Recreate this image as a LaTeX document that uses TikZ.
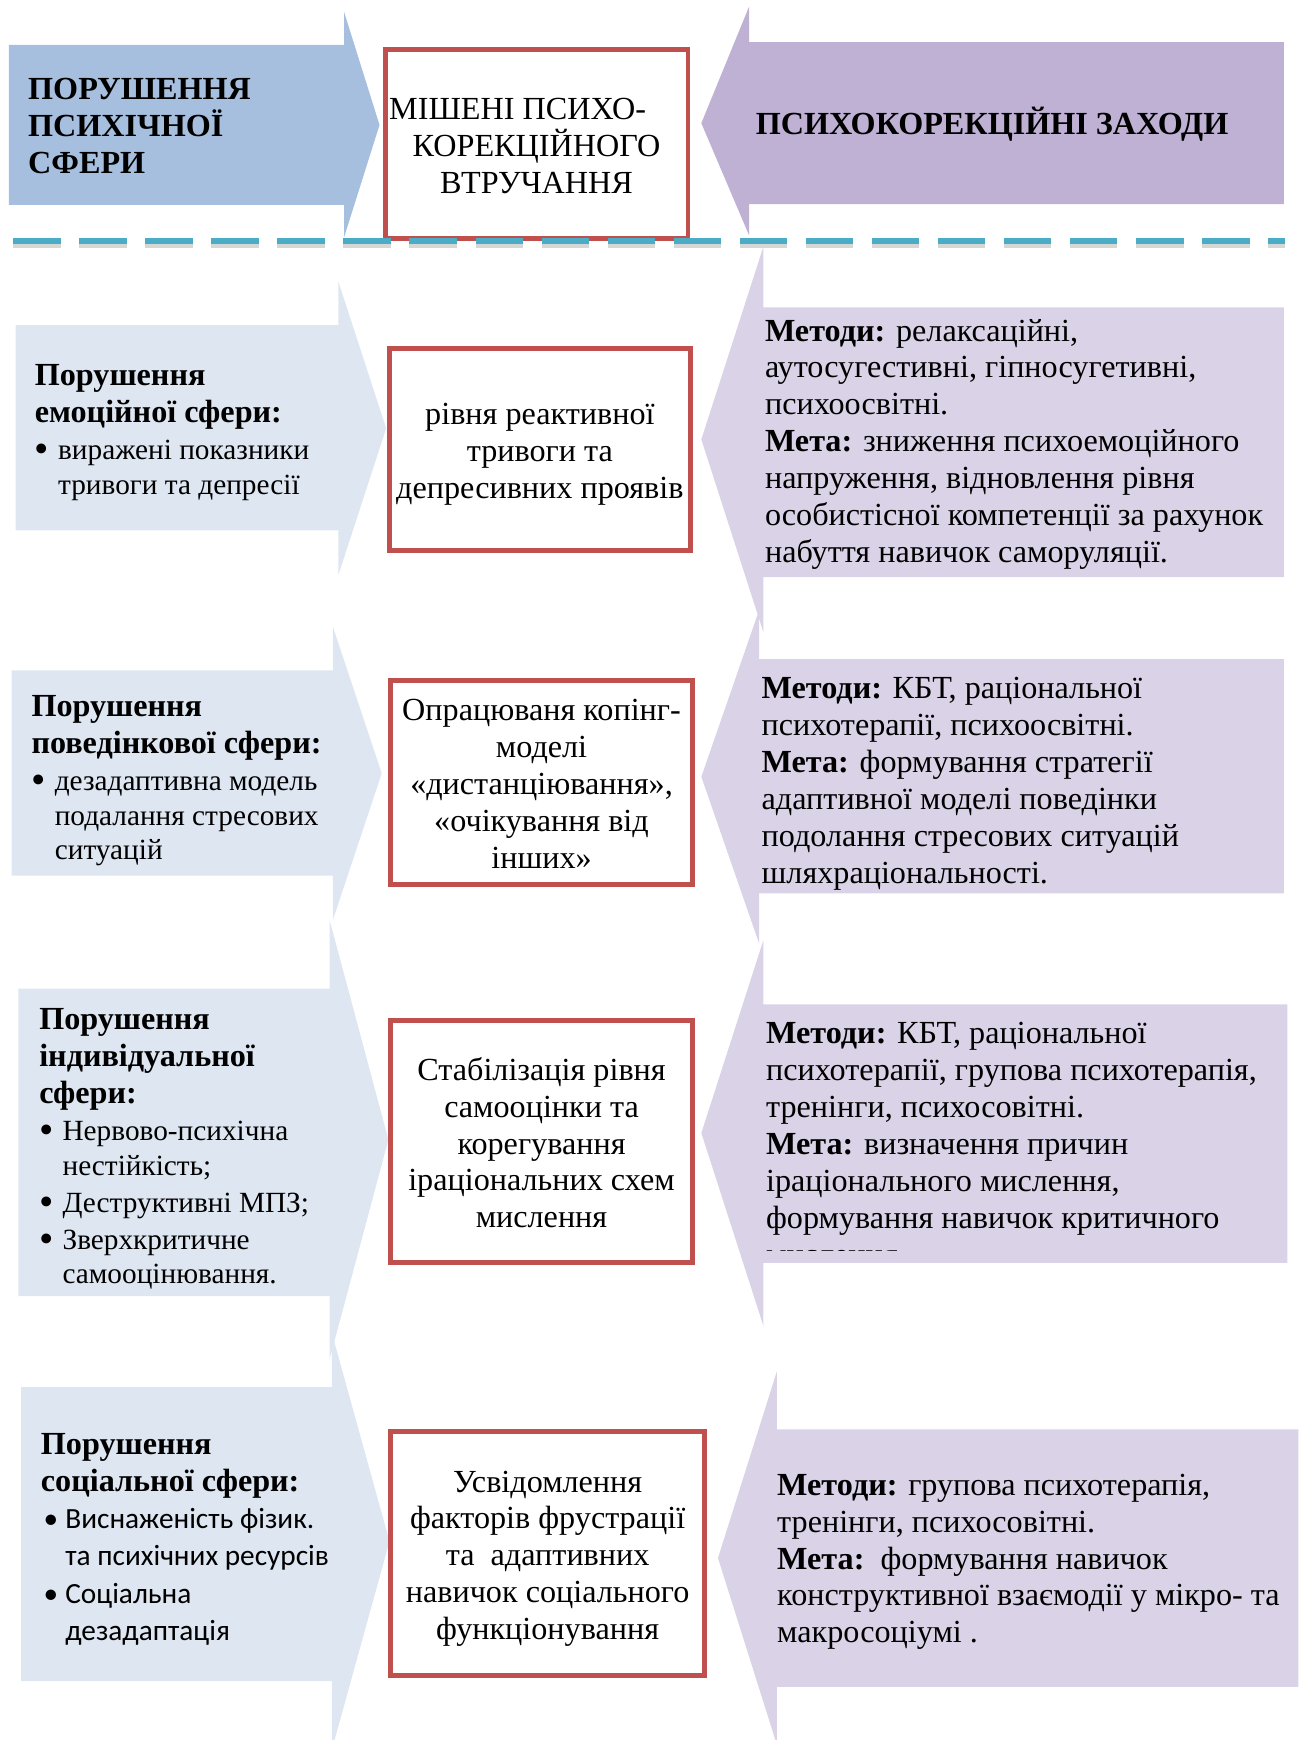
\documentclass[tikz,border=0pt]{standalone}
\usepackage{fontspec}
\setmainfont{Liberation Serif}
\newfontfamily\calib{Carlito}
\definecolor{hblue}{HTML}{A7BFDE}
\definecolor{hpurple}{HTML}{BFB1D3}
\definecolor{rblue}{HTML}{DEE6F1}
\definecolor{rpurple}{HTML}{DAD2E6}
\definecolor{redc}{HTML}{C0504D}
\definecolor{dashc}{HTML}{4BACC6}
\newcommand\mystrut{\rule{0pt}{10pt}}
\newcommand\boxstrut{\rule{0pt}{14.5pt}}
\newcommand\lastrut{\rule[-3.5pt]{0pt}{3.5pt}}
\newcommand\bigbul{\raisebox{-1.3pt}{\scalebox{1.4}{\textbullet}}}
\newcommand\mybul{\makebox[10.5pt][l]{\bigbul}}
\newcommand\myind{\hspace*{10.5pt}}
\newcommand\cbul{\hspace*{1.2pt}\makebox[9.8pt][l]{\textbullet}}
\newcommand\cind{\hspace*{11pt}}
\newcommand\sm[1]{{\fontsize{13.2}{16.8}\selectfont #1}}
\newcommand\cb[1]{{\calib\fontsize{13.2}{16.8}\selectfont #1}}
\tikzset{
  txt/.style={anchor=north west, inner sep=0pt, align=left, font=\fontsize{14.5}{16.65}\selectfont},
  ltxt/.style={anchor=north west, inner sep=0pt, align=left, font=\fontsize{14.5}{16.8}\selectfont},
  redbox/.style={draw=redc, line width=2.2pt, fill=white, align=center, inner sep=0pt, font=\fontsize{14.5}{16.6}\selectfont},
  dashln/.style={draw=dashc, line width=2.7pt, dash pattern=on 21.5pt off 8.25pt},
  dashshadow/.style={draw=black!16, line width=2.9pt, dash pattern=on 21.5pt off 8.25pt},
}
\begin{document}
\begin{tikzpicture}[x=0.5pt,y=-0.5pt]
\useasboundingbox (0,0) rectangle (1173,1568);
% ---------- header ----------
\fill[hblue] (8,40.5) -- (310,40.5) -- (310,10.5) -- (342,112.6) -- (310,214) -- (310,184.7) -- (8,184.7) -- cycle;
\fill[hpurple] (1157,38) -- (675,38) -- (675,6) -- (632,111) -- (675,212) -- (675,184) -- (1157,184) -- cycle;
\node[ltxt, font=\fontsize{14.5}{16.75}\selectfont\bfseries] (hl) at (25,69.3) {\mystrut ПОРУШЕННЯ\\ПСИХІЧНОЇ\\СФЕРИ};
\node[redbox, minimum width=136.5pt, minimum height=85pt] (hm) at (483.5,130) {\boxstrut МІШЕНІ ПСИХО-\hspace*{17pt}\\КОРЕКЦІЙНОГО\\ВТРУЧАННЯ\lastrut};
\node[inner sep=0pt, font=\fontsize{14.5}{16.6}\selectfont\bfseries] (hr) at (894,112) {ПСИХОКОРЕКЦІЙНІ ЗАХОДИ};
% ---------- row arrows ----------
\fill[rblue] (14,293) -- (305,293) -- (305,254) -- (348,386) -- (305,518) -- (305,478) -- (14,478) -- cycle;
\fill[rblue] (10.5,604) -- (300,604) -- (300,565) -- (344,697) -- (300,829) -- (300,789) -- (10.5,789) -- cycle;
\fill[rblue] (16.5,891) -- (297,891) -- (297,829) -- (350,1027) -- (297,1225) -- (297,1168) -- (16.5,1168) -- cycle;
\fill[rblue] (19,1250) -- (299,1250) -- (299,1201) -- (351,1389) -- (299,1577) -- (299,1515) -- (19,1515) -- cycle;
\fill[rpurple] (1157,277) -- (688,277) -- (688,222) -- (632,396) -- (688,570) -- (688,520) -- (1157,520) -- cycle;
\fill[rpurple] (1157,594) -- (684,594) -- (684,550) -- (632,700) -- (684,850) -- (684,805) -- (1157,805) -- cycle;
\fill[rpurple] (1160,905) -- (688,905) -- (688,847) -- (632,1021) -- (688,1195) -- (688,1138) -- (1160,1138) -- cycle;
\fill[rpurple] (1170,1288) -- (700,1288) -- (700,1236) -- (647,1404) -- (700,1572) -- (700,1520) -- (1170,1520) -- cycle;
% ---------- left texts ----------
\node[ltxt] (l1) at (31,326.9) {\mystrut\textbf{Порушення}\\\textbf{емоційної сфери:}\\\sm{\mybul виражені показники}\\[-1.4pt]\sm{\myind тривоги та депресії}};
\node[ltxt] (l2) at (28,624.9) {\mystrut\textbf{Порушення}\\\textbf{поведінкової сфери:}\\\sm{\mybul дезадаптивна модель}\\[-1.3pt]\sm{\myind подалання стресових}\\[-1.3pt]\sm{\myind ситуацій}};
\node[ltxt] (l3) at (35,906.9) {\mystrut\textbf{Порушення}\\\textbf{індивідуальної}\\\textbf{сфери:}\\\sm{\mybul Нервово-психічна}\\[-1.4pt]\sm{\myind нестійкість;}\\\sm{\mybul Деструктивні МПЗ;}\\\sm{\mybul Зверхкритичне}\\[-1.4pt]\sm{\myind самооцінювання.}};
\node[ltxt] (l4) at (36.5,1289.9) {\mystrut\textbf{Порушення}\\\textbf{соціальної сфери:}\\\cb{\cbul Виснаженість фізик.}\\\cb{\cind та психічних ресурсів}\\\cb{\cbul Соціальна}\\\cb{\cind дезадаптація}};
% ---------- middle boxes ----------
\node[redbox, minimum width=135.5pt, minimum height=91pt] (m1) at (486.5,405) {\boxstrut рівня реактивної\\тривоги та\\депресивних проявів\lastrut};
\node[redbox, minimum width=136pt, minimum height=92pt] (m2) at (488,705) {\boxstrut Опрацюваня копінг-\\моделі\\«дистанціювання»,\\«очікування від\\інших»\lastrut};
\node[redbox, minimum width=136pt, minimum height=109pt] (m3) at (488,1029) {\boxstrut Стабілізація рівня\\самооцінки та\\корегування\\іраціональних схем\\мислення\lastrut};
\node[redbox, minimum width=141.5pt, minimum height=110pt] (m4) at (493.5,1400) {\boxstrut Усвідомлення\\факторів фрустрації\\та\ \ адаптивних\\навичок соціального\\функціонування\lastrut};
% ---------- right texts ----------
\node[txt] (r1) at (689,286.9) {\mystrut\textbf{Методи:} релаксаційні,\\аутосугестивні, гіпносугетивні,\\психоосвітні.\\\textbf{Мета:} зниження психоемоційного\\напруження, відновлення рівня\\особистісної компетенції за рахунок\\набуття навичок саморуляції.};
\node[txt] (r2) at (686,608.9) {\mystrut\textbf{Методи:} КБТ, раціональної\\психотерапії, психоосвітні.\\\textbf{Мета:} формування стратегії\\адаптивної моделі поведінки\\подолання стресових ситуацій\\шляхраціональності.};
\begin{scope}
\clip (688,905) rectangle (1160,1127);
\node[txt] (r3) at (690,919.9) {\mystrut\textbf{Методи:} КБТ, раціональної\\психотерапії, групова психотерапія,\\тренінги, психосовітні.\\\textbf{Мета:} визначення причин\\іраціонального мислення,\\формування навичок критичного\\мислення};
\end{scope}
\node[txt] (r4) at (700,1326.9) {\mystrut\textbf{Методи:} групова психотерапія,\\тренінги, психосовітні.\\\textbf{Мета:}\ \ формування навичок\\конструктивної взаємодії у мікро- та\\макросоціумі .};
% ---------- dashed separator ----------
\coordinate (dl) at (12,217);
\coordinate (dr) at (1158,217);
\draw[dashshadow] ([yshift=-1.6pt]dl) -- ([yshift=-1.6pt]dr);
\draw[dashln] (dl) -- (dr);
\end{tikzpicture}
\end{document}
